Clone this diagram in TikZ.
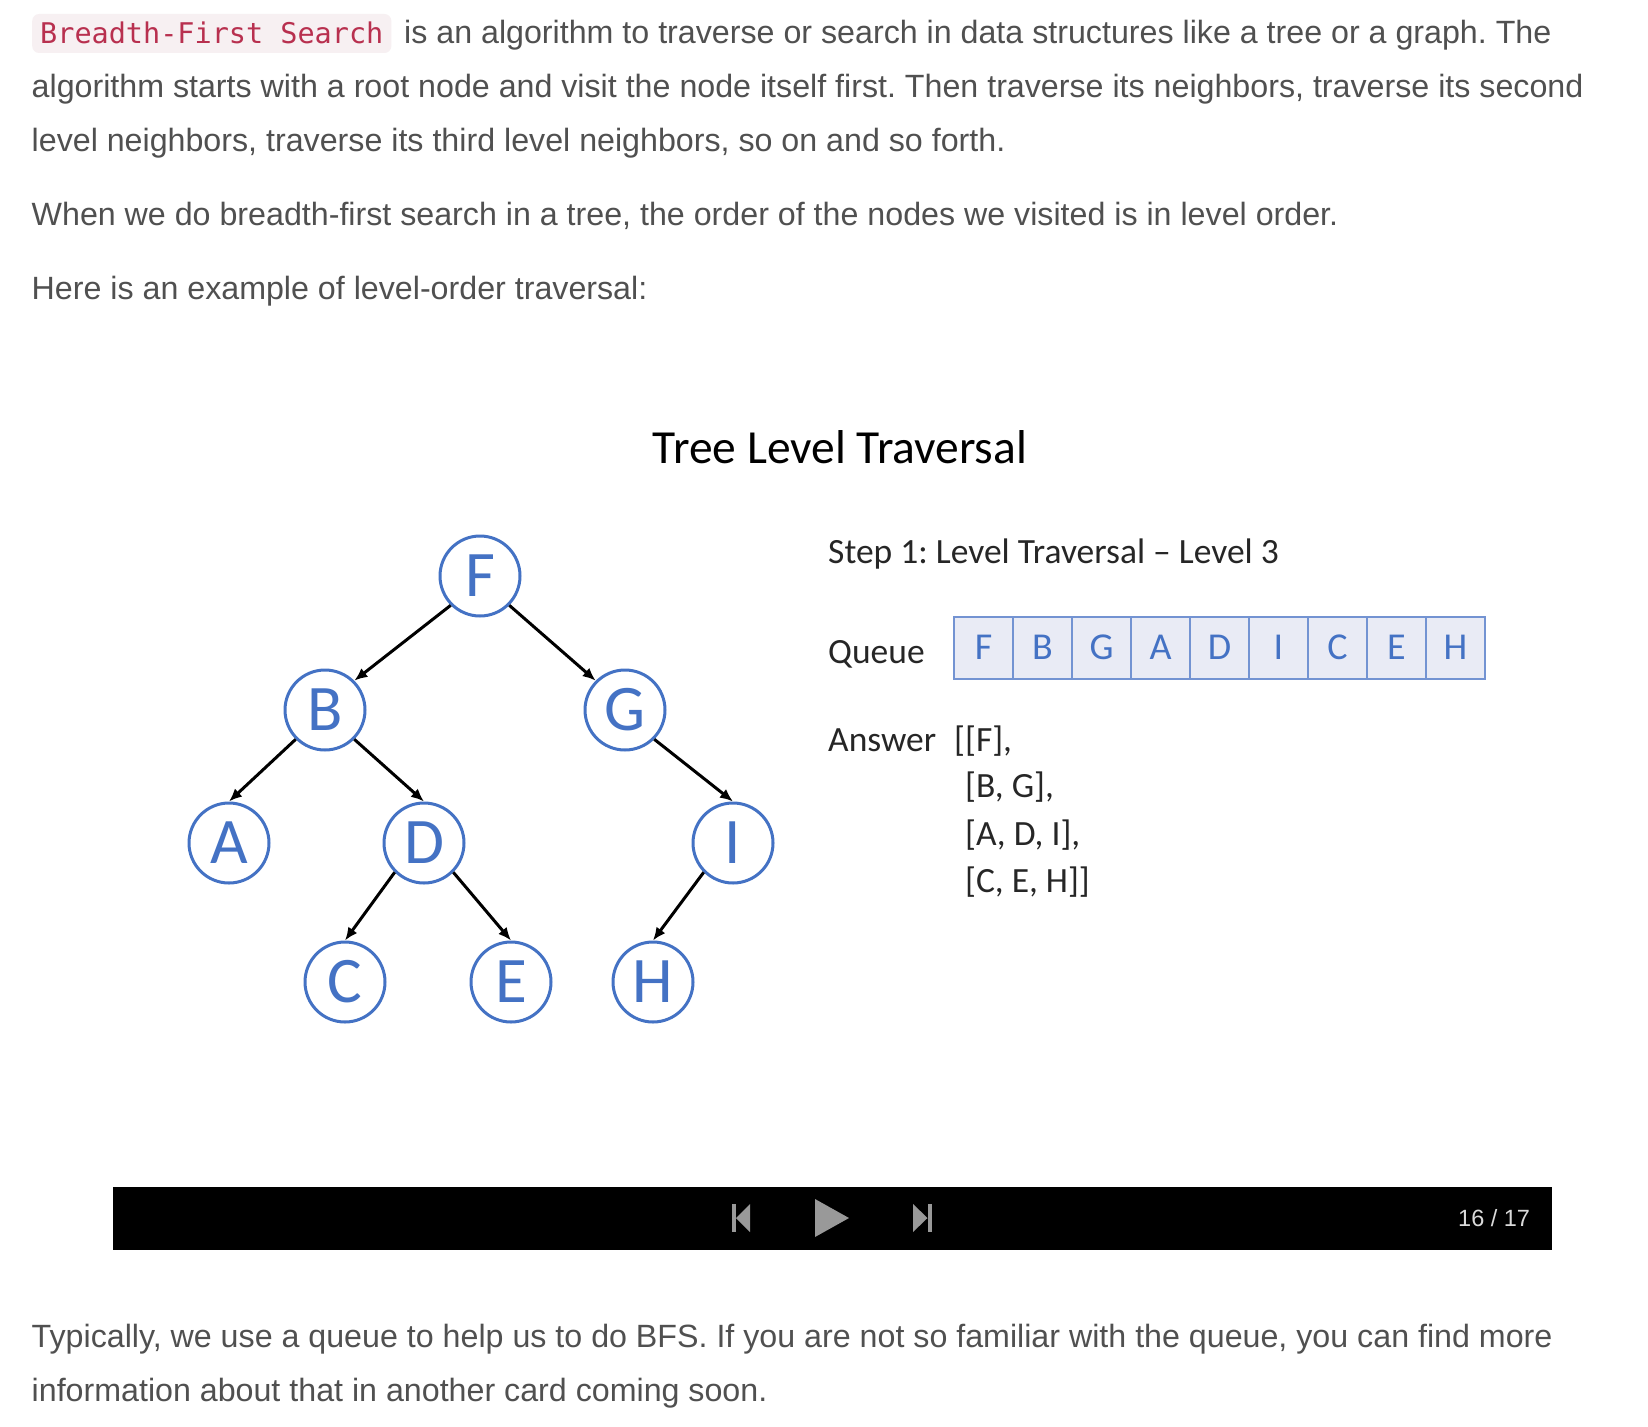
\documentclass[tikz,border=0pt]{standalone}
\usepackage{fontspec}
\setmainfont{Liberation Sans}
\newfontfamily\calib{Carlito}
\newfontfamily\monof{DejaVu Sans Mono}
\usetikzlibrary{arrows.meta}
\definecolor{bodytext}{HTML}{505050}
\definecolor{nodeblue}{HTML}{4472C4}
\definecolor{qfill}{HTML}{E9EBF5}
\definecolor{qline}{HTML}{7393D2}
\definecolor{codefg}{HTML}{B8304F}
\definecolor{codebg}{HTML}{F7F0F2}
\definecolor{icongrey}{HTML}{999999}
\definecolor{countgrey}{HTML}{DADADA}
\definecolor{slidetext}{HTML}{262626}
\frenchspacing
\begin{document}
\begin{tikzpicture}[x=1pt,y=-1pt,
  body/.style={anchor=base west, inner sep=0pt, text=bodytext, font=\fontsize{32.2}{38}\selectfont},
  tnode/.style={circle, draw=nodeblue, line width=3pt, minimum size=80pt, inner sep=0pt, text=nodeblue, font=\calib\fontsize{65}{70}\selectfont},
  edge/.style={line width=3pt, -{Latex[length=13pt,width=11pt]}},
  qcell/.style={draw=qline, fill=qfill, line width=2pt, minimum width=59pt, minimum height=62pt, inner sep=0pt, text=nodeblue, font=\calib\fontsize{38}{40}\selectfont},
  slide/.style={anchor=base west, inner sep=0pt, text=slidetext, font=\calib\fontsize{35.5}{40}\selectfont},
  icon/.style={fill=icongrey, draw=none},
]
\fill[white] (0,0) rectangle (1648,1426);
\useasboundingbox (0,0) rectangle (1648,1426);

% ---- paragraph text ----
\node[anchor=base west, fill=codebg, rounded corners=7pt, inner xsep=8pt, inner ysep=0pt,
      text height=30pt, text depth=9pt, text=codefg, font=\monof\fontsize{28.5}{30}\selectfont]
      (code) at (32,44) {Breadth-First Search};
\node[body] (l1) at (404,44) {is an algorithm to traverse or search in data structures like a tree or a graph. The};
\node[body] (l2) at (31.5,97.6) {algorithm starts with a root node and visit the node itself first. Then traverse its neighbors, traverse its second};
\node[body] (l3) at (31.5,151.2) {level neighbors, traverse its third level neighbors, so on and so forth.};
\node[body] (l4) at (31.5,225.5) {When we do breadth-first search in a tree, the order of the nodes we visited is in level order.};
\node[body] (l5) at (31.5,299.5) {Here is an example of level-order traversal:};
\node[body] (l6) at (31.5,1347.5) {Typically, we use a queue to help us to do BFS. If you are not so familiar with the queue, you can find more};
\node[body] (l7) at (31.5,1401) {information about that in another card coming soon.};

% ---- slide ----
\node[anchor=base, inner sep=0pt, text=black, font=\calib\fontsize{47.5}{50}\selectfont] (title) at (840,463) {Tree Level Traversal};

\node[tnode] (F) at (480,576) {F};
\node[tnode] (B) at (325,710) {B};
\node[tnode] (G) at (625,710) {G};
\node[tnode] (A) at (229,843) {A};
\node[tnode] (D) at (424,843) {D};
\node[tnode] (I) at (733,843) {I};
\node[tnode] (C) at (345,982) {C};
\node[tnode] (E) at (511,982) {E};
\node[tnode] (H) at (653,982) {H};

\draw[edge] (F.south west) -- (B.north east);
\draw[edge] (F.south east) -- (G.north west);
\draw[edge] (B.south west) -- (A.north);
\draw[edge] (B.south east) -- (D.north);
\draw[edge] (G.south east) -- (I.north);
\draw[edge] (D.south west) -- (C.north);
\draw[edge] (D.south east) -- (E.north);
\draw[edge] (I.south west) -- (H.north);

\node[slide] (step) at (828,563) {Step 1: Level Traversal – Level 3};
\node[slide] (qlabel) at (828,663) {Queue};
\foreach \t [count=\i from 0] in {F,B,G,A,D,I,C,E,H} {
  \node[qcell] (q\i) at ({954+59*(\i+0.5)},647.5) {\t};
}
\node[slide] (ans) at (828,751) {Answer};
\node[slide] (a1) at (954,751) {[[F],};
\node[slide] (a2) at (965,797) {[B, G],};
\node[slide] (a3) at (965,845) {[A, D, I],};
\node[slide] (a4) at (965,892) {[C, E, H]]};

% ---- player bar ----
\fill[black] (112.5,1186.5) rectangle (1552,1249.5);
\fill[icon] (732,1204) rectangle (736,1232);
\fill[icon] (736,1218) -- (750,1204) -- (750,1232) -- cycle;
\fill[icon] (815,1199) -- (849,1218) -- (815,1237) -- cycle;
\fill[icon] (913,1204) -- (927.5,1218) -- (913,1232) -- cycle;
\fill[icon] (927.5,1204) rectangle (931.5,1232);
\node[anchor=base west, inner sep=0pt, text=countgrey, font=\fontsize{23.5}{26}\selectfont] (count) at (1458,1226) {16 / 17};
\end{tikzpicture}
\end{document}
